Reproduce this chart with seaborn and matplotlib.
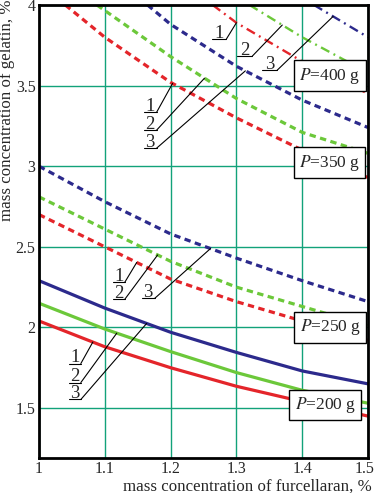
import numpy as np
import pandas as pd
import matplotlib
matplotlib.use("Agg")
import matplotlib.pyplot as plt
import matplotlib.transforms as mtransforms
import seaborn as sns

sns.set_style("white")
plt.rcParams["font.family"] = ["Liberation Serif", "DejaVu Serif"]
plt.rcParams["mathtext.fontset"] = "stix"

# furcellaran concentration (%) / gelatin concentration (%)
furc = [1.0, 1.1, 1.2, 1.3, 1.4, 1.5]
gel_200_1 = [2.04, 1.88, 1.75, 1.635, 1.54, 1.45]
gel_200_2 = [2.15, 1.99, 1.85, 1.72, 1.61, 1.53]
gel_200_3 = [2.29, 2.12, 1.97, 1.845, 1.73, 1.65]
gel_250_1 = [2.70, 2.50, 2.30, 2.16, 2.04, 1.92]
gel_250_2 = [2.81, 2.61, 2.41, 2.25, 2.13, 2.01]
gel_250_3 = [3.00, 2.78, 2.58, 2.43, 2.29, 2.16]
furc_350_1 = [1.04, 1.1, 1.2, 1.3, 1.4, 1.5]
gel_350_1 = [4.0, 3.80, 3.52, 3.30, 3.10, 2.93]
furc_350_2 = [1.088, 1.2, 1.3, 1.4, 1.5]
gel_350_2 = [4.0, 3.68, 3.42, 3.21, 3.08]
furc_350_3 = [1.165, 1.2, 1.3, 1.4, 1.5]
gel_350_3 = [4.0, 3.88, 3.62, 3.41, 3.24]
furc_400_1 = [1.264, 1.3, 1.4, 1.5]
gel_400_1 = [4.0, 3.89, 3.65, 3.45]
furc_400_2 = [1.32, 1.4, 1.5]
gel_400_2 = [4.0, 3.80, 3.58]
furc_400_3 = [1.418, 1.5]
gel_400_3 = [4.0, 3.80]

loads = [200, 250, 350, 400]
xticks = [1, 1.1, 1.2, 1.3, 1.4, 1.5]
xtick_labels = ["1", "1.1", "1.2", "1.3", "1.4", "1.5"]
yticks = [1.5, 2, 2.5, 3, 3.5, 4]
ytick_labels = ["1.5", "2", "2.5", "3", "3.5", "4"]

series = [
    (200, 1, furc, gel_200_1), (200, 2, furc, gel_200_2), (200, 3, furc, gel_200_3),
    (250, 1, furc, gel_250_1), (250, 2, furc, gel_250_2), (250, 3, furc, gel_250_3),
    (350, 1, furc_350_1, gel_350_1), (350, 2, furc_350_2, gel_350_2), (350, 3, furc_350_3, gel_350_3),
    (400, 1, furc_400_1, gel_400_1), (400, 2, furc_400_2, gel_400_2), (400, 3, furc_400_3, gel_400_3),
]
df = pd.concat([pd.DataFrame({"P": p, "curve": c, "furcellaran": xs, "gelatin": ys})
                for p, c, xs, ys in series], ignore_index=True)

palette = {1: "#e4252a", 2: "#6cc83a", 3: "#2c2a8c"}
grid_color = "#12a27a"
line_kws = {
    200: dict(lw=2.3),
    250: dict(lw=2.3, dashes=(2.0, 1.4)),
    350: dict(lw=2.3, dashes=(2.0, 1.4)),
    400: dict(lw=1.7, dashes=(4.0, 2.0, 0.8, 2.0)),
}

fig = plt.figure(figsize=(3.76, 4.93), dpi=100)
ax = fig.add_axes([39 / 376, 1 - 458 / 493, 329 / 376, 453 / 493])

for p in loads:
    sns.lineplot(data=df[df.P == p], x="furcellaran", y="gelatin", hue="curve",
                 palette=palette, estimator=None, sort=False, legend=False,
                 ax=ax, zorder=3, **line_kws[p])

ax.set_xlim(1, 1.5)
ax.set_ylim(1.19, 4)
ax.set_xticks(xticks, xtick_labels)
ax.set_yticks(yticks, ytick_labels)
ax.grid(True, color=grid_color, lw=1)
ax.tick_params(length=0, labelsize=11.5, pad=2.5)
for s in ax.spines.values():
    s.set_linewidth(2)
    s.set_color("black")
    s.set_zorder(5)

# keep the last x tick label inside the canvas
last = ax.get_xticklabels()[-1]
last.set_transform(last.get_transform() + mtransforms.ScaledTranslation(-3 / 100, 0, fig.dpi_scale_trans))

ax.set_xlabel("mass concentration of furcellaran, %", fontsize=12.2, loc="right")
ax.xaxis.set_label_coords(1.012, -0.045)
ax.set_ylabel("mass concentration of gelatin, %", fontsize=12.2, loc="top")
ax.yaxis.set_label_coords(-0.073, 1.012)


def curve_of(p, c):
    sub = df[(df.P == p) & (df.curve == c)]
    return sub.furcellaran.values, sub.gelatin.values


def callout(label, x0, x1, y, xt, p, c):
    xs, ys = curve_of(p, c)
    yt = np.interp(xt, xs, ys)
    ax.plot([x0, x1], [y, y], color="black", lw=0.8, zorder=4)
    ax.plot([x1, xt], [y, yt], color="black", lw=0.8, zorder=4)
    ax.annotate(label, ((x0 + x1) / 2, y), xytext=(0, 1.0), textcoords="offset points",
                ha="center", va="baseline", fontsize=13.5, zorder=4)


# curve number callouts
for i, c in enumerate([1, 2, 3]):
    callout(str(c), 1.0455, 1.0636, [1.776, 1.658, 1.553][i], [1.0818, 1.1182, 1.1636][i], 200, c)
callout("1", 1.1121, 1.1303, 2.2795, 1.1485, 250, 1)
callout("2", 1.1121, 1.1303, 2.174, 1.1803, 250, 2)
callout("3", 1.156, 1.1758, 2.180, 1.2606, 250, 3)
for i, c in enumerate([1, 2, 3]):
    callout(str(c), 1.159, 1.1788, [3.335, 3.224, 3.112][i], [1.203, 1.2515, 1.3136][i], 350, c)
callout("1", 1.2636, 1.2848, 3.789, 1.30, 400, 1)
callout("2", 1.3015, 1.3242, 3.683, 1.3697, 400, 2)
callout("3", 1.3394, 1.3621, 3.596, 1.447, 400, 3)

# load boxes
box_pos = {400: (1.442, 3.562), 350: (1.4417, 3.022), 250: (1.4424, 2.0), 200: (1.4348, 1.519)}
for p in loads:
    bx, by = box_pos[p]
    ax.text(bx, by, f"$P$=%d g" % p, ha="center", va="center", fontsize=12.5, zorder=6,
            bbox=dict(boxstyle="square,pad=0.3", fc="white", ec="black", lw=1))

fig.savefig("out.png", dpi=100)
